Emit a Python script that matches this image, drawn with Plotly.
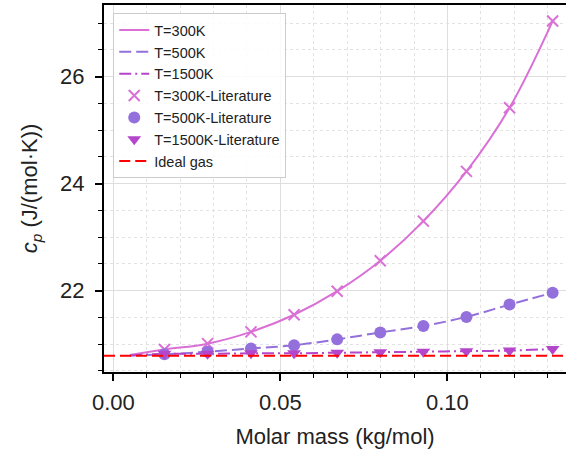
import plotly.graph_objects as go

# Molar masses of the sampled species (kg/mol)
molar_mass = [0.0153, 0.0282, 0.0412, 0.0541, 0.0670, 0.0799, 0.0928, 0.1057, 0.1186, 0.1315]

# Literature heat capacities, J/(mol K)
cp_lit_300 = [20.90, 21.01, 21.23, 21.55, 21.99, 22.56, 23.30, 24.23, 25.42, 27.04]
cp_lit_500 = [20.81, 20.86, 20.92, 20.98, 21.09, 21.22, 21.34, 21.51, 21.74, 21.96]
cp_lit_1500 = [20.82, 20.82, 20.83, 20.83, 20.84, 20.85, 20.86, 20.87, 20.88, 20.91]

# Model curves (start slightly left of the first species)
model_mass = [0.005] + molar_mass
cp_model_300 = [20.80] + cp_lit_300
cp_model_500 = [20.79] + cp_lit_500
cp_model_1500 = [20.79] + cp_lit_1500

# Ideal monatomic gas, 5/2 R
cp_ideal = 20.786
x_range = [-0.0028, 0.1355]
y_range = [20.48, 27.34]

c300 = "#DA70D6"
c500 = "#9370DB"
c1500 = "#B446CC"

fig = go.Figure()

fig.add_trace(go.Scatter(x=model_mass, y=cp_model_300, mode="lines", name="T=300K",
                         line=dict(color=c300, width=2, shape="spline")))
fig.add_trace(go.Scatter(x=model_mass, y=cp_model_500, mode="lines", name="T=500K",
                         line=dict(color=c500, width=2, shape="spline", dash="12px,5px")))
fig.add_trace(go.Scatter(x=model_mass, y=cp_model_1500, mode="lines", name="T=1500K",
                         line=dict(color=c1500, width=2, shape="spline", dash="12px,4px,2px,4px")))
fig.add_trace(go.Scatter(x=molar_mass, y=cp_lit_300, mode="markers", name="T=300K-Literature",
                         marker=dict(symbol="x-thin", size=11, color=c300,
                                     line=dict(color=c300, width=2))))
fig.add_trace(go.Scatter(x=molar_mass, y=cp_lit_500, mode="markers", name="T=500K-Literature",
                         marker=dict(symbol="circle", size=12, color=c500)))
fig.add_trace(go.Scatter(x=molar_mass, y=cp_lit_1500, mode="markers", name="T=1500K-Literature",
                         marker=dict(symbol="triangle-down", size=12, color=c1500)))
fig.add_trace(go.Scatter(x=x_range, y=[cp_ideal, cp_ideal], mode="lines", name="Ideal gas",
                         line=dict(color="#FF0000", width=2, dash="11px,5px")))

axis_common = dict(
    showline=True, linecolor="black", linewidth=2,
    ticks="outside", ticklen=7, tickwidth=1.5, tickcolor="black",
    showgrid=True, gridcolor="#dedede", gridwidth=1,
    zeroline=False,
    tickfont=dict(size=22, color="#222"),
)

fig.update_xaxes(
    **axis_common, range=x_range, dtick=0.05, tick0=0, tickformat=".2f",
    mirror=True, ticklabelstandoff=3,
    minor=dict(dtick=0.01, ticks="outside", ticklen=4, tickwidth=1.2, tickcolor="black",
               showgrid=True, gridcolor="#e2e2e2", griddash="dot", gridwidth=1),
    title=dict(text="Molar mass (kg/mol)", font=dict(size=22, color="#222"), standoff=14),
)
fig.update_yaxes(
    **axis_common, range=y_range, dtick=2, tick0=20, ticklabelstandoff=6,
    minor=dict(dtick=0.5, ticks="outside", ticklen=4, tickwidth=1.2, tickcolor="black",
               showgrid=True, gridcolor="#e2e2e2", griddash="dot", gridwidth=1),
    title=dict(text="<i>c</i><sub><i>p</i></sub> (J/(mol·K))", font=dict(size=22, color="#222"),
               standoff=16),
)

fig.update_layout(
    width=566, height=457,
    margin=dict(l=104, r=0, t=5, b=85, autoexpand=False),
    paper_bgcolor="white", plot_bgcolor="white",
    font=dict(family="Arial, Liberation Sans, sans-serif"),
    showlegend=True,
    legend=dict(x=0.02, y=0.978, xanchor="left", yanchor="top",
                bgcolor="rgba(255,255,255,0.85)", bordercolor="#cccccc", borderwidth=1,
                font=dict(size=14.5, color="#222"), tracegroupgap=0),
)

fig.write_html("out.html")
